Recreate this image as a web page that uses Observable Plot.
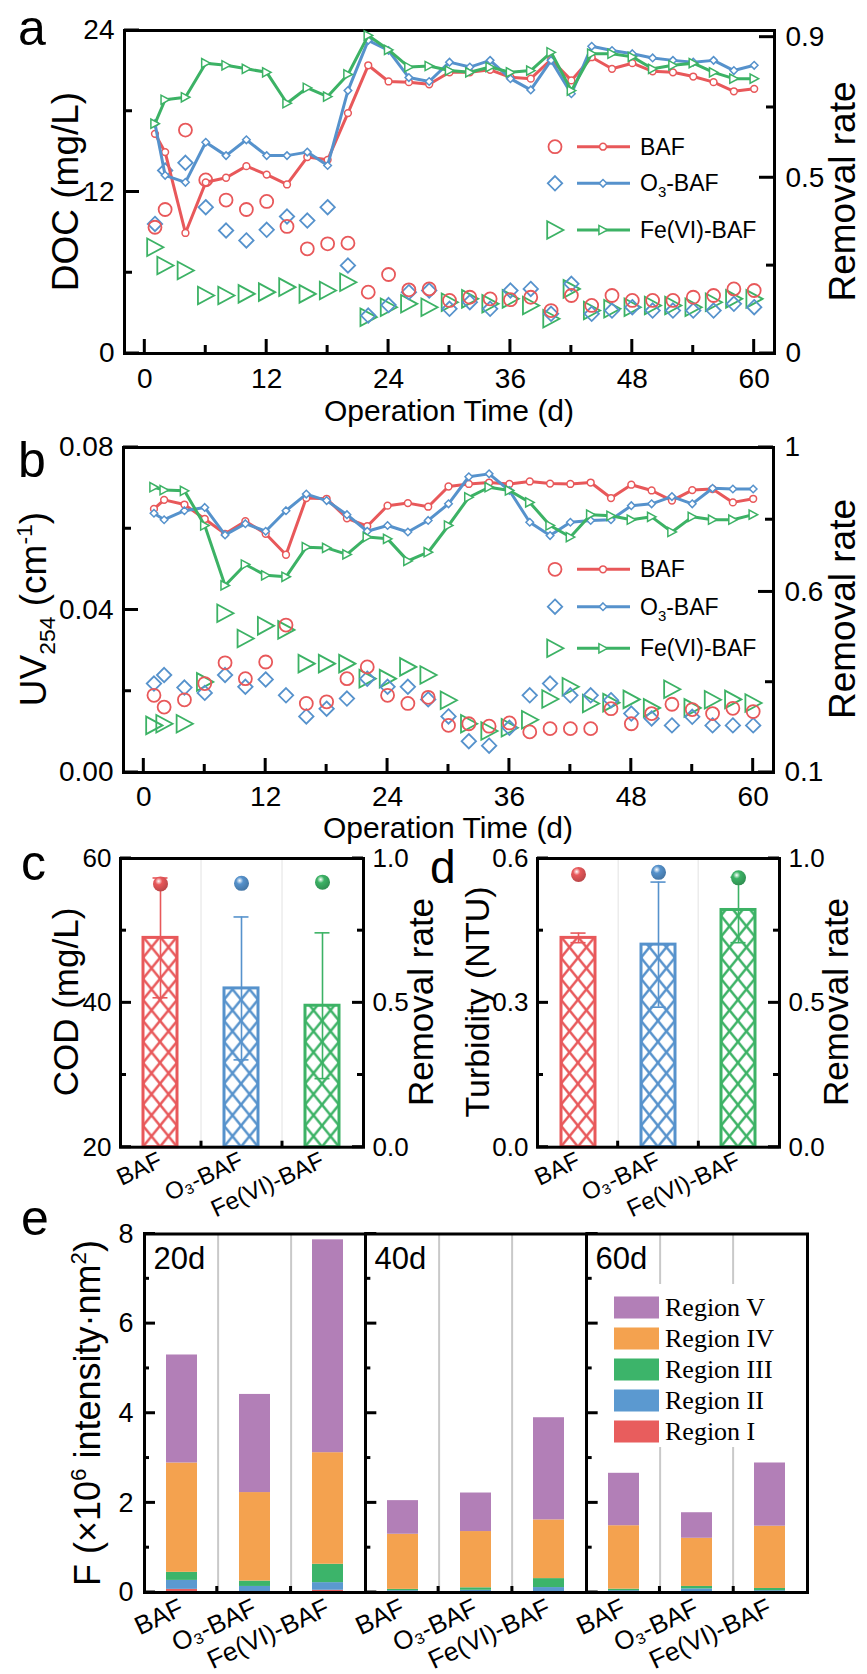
<!DOCTYPE html>
<html>
<head>
<meta charset="utf-8">
<script src="https://cdn.jsdelivr.net/npm/d3@7"></script>
<script src="https://cdn.jsdelivr.net/npm/@observablehq/plot@0.6"></script>
<style>
  html, body { margin: 0; padding: 0; background: #fff; }
  #fig { position: relative; width: 867px; height: 1674px; overflow: hidden; background: #fff; }
</style>
</head>
<body>
<div id="fig"></div>
<script>
// ================= DATA =================
const days = [1, 2, 4, 6, 8, 10, 12, 14, 16, 18, 20, 22, 24, 26, 28, 30, 32, 34, 36, 38, 40, 42, 44, 46, 48, 50, 52, 54, 56, 58, 60];
const reactors = ["BAF", "O₃-BAF", "Fe(VI)-BAF"];

// (a) effluent DOC (mg/L)
const docBAF = [9.38, 10.7, 16.6, 12.9, 11.4, 10.7, 11.3, 9.44, 7.78, 8.15, 8.2, 4.56, 5.87, 4.73, 4.8, 3.94, 4.18, 4.06, 4.0, 4.18, 3.19, 4.31, 3.57, 4.31, 3.94, 3.94, 3.94, 4.18, 4.31, 4.8, 4.68];
const docO3 = [9.63, 13.6, 14.17, 10.87, 9.14, 8.4, 9.19, 10.18, 9.88, 10.87, 6.54, 2.82, 3.6, 4.56, 4.68, 3.32, 3.81, 3.32, 4.68, 4.8, 2.95, 5.18, 2.95, 3.19, 3.44, 3.19, 3.19, 3.19, 3.19, 3.69, 3.44];
const docFe = [7.9, 6.54, 6.17, 4.31, 4.31, 4.43, 4.56, 4.93, 4.43, 4.68, 5.3, 2.7, 3.44, 3.69, 3.44, 3.81, 4.06, 3.69, 4.06, 3.57, 2.58, 4.8, 3.19, 3.32, 3.44, 3.57, 3.57, 3.44, 3.81, 4.06, 4.06];
// (a) DOC removal rate
const docRemBAF = [0.625, 0.573, 0.343, 0.487, 0.50, 0.533, 0.509, 0.481, 0.559, 0.551, 0.684, 0.820, 0.774, 0.772, 0.766, 0.80, 0.80, 0.807, 0.786, 0.782, 0.836, 0.777, 0.843, 0.81, 0.826, 0.803, 0.80, 0.788, 0.772, 0.746, 0.753];
const docRemO3 = [0.654, 0.507, 0.487, 0.601, 0.563, 0.608, 0.563, 0.563, 0.573, 0.535, 0.748, 0.891, 0.862, 0.785, 0.774, 0.829, 0.815, 0.834, 0.782, 0.750, 0.834, 0.739, 0.874, 0.862, 0.853, 0.841, 0.834, 0.829, 0.834, 0.805, 0.820];
const docRemFe = [0.654, 0.722, 0.729, 0.826, 0.820, 0.810, 0.80, 0.712, 0.756, 0.731, 0.794, 0.905, 0.864, 0.815, 0.818, 0.805, 0.80, 0.815, 0.80, 0.805, 0.857, 0.748, 0.853, 0.853, 0.844, 0.81, 0.82, 0.826, 0.80, 0.782, 0.782];

// (b) effluent UV254 (cm-1)
const uvBAF = [0.0190, 0.0161, 0.0179, 0.0219, 0.0270, 0.0231, 0.0272, 0.0363, 0.0170, 0.0174, 0.0231, 0.0260, 0.0190, 0.0170, 0.0185, 0.0116, 0.0120, 0.0114, 0.0122, 0.0100, 0.0108, 0.0108, 0.0108, 0.0157, 0.0120, 0.0145, 0.0168, 0.0155, 0.0145, 0.0158, 0.0150];
const uvO3 = [0.0219, 0.0240, 0.0209, 0.0196, 0.0240, 0.0211, 0.0229, 0.0190, 0.0138, 0.0157, 0.0182, 0.0231, 0.0211, 0.0211, 0.0180, 0.0138, 0.0077, 0.0066, 0.0110, 0.0190, 0.0219, 0.0190, 0.0190, 0.0178, 0.0145, 0.0133, 0.0116, 0.0137, 0.0116, 0.0116, 0.0116];
const uvFe = [0.0116, 0.0120, 0.0120, 0.0223, 0.0392, 0.0330, 0.0361, 0.0351, 0.0268, 0.0268, 0.0268, 0.0231, 0.0231, 0.0260, 0.0240, 0.0178, 0.0120, 0.0102, 0.0110, 0.0130, 0.0181, 0.0211, 0.0170, 0.0172, 0.0180, 0.0159, 0.0205, 0.0159, 0.0179, 0.0180, 0.0171];
// (b) UV254 removal rate
const uvRemBAF = [0.83, 0.855, 0.842, 0.802, 0.761, 0.796, 0.761, 0.703, 0.86, 0.858, 0.804, 0.782, 0.839, 0.846, 0.836, 0.892, 0.899, 0.903, 0.899, 0.906, 0.90, 0.899, 0.903, 0.86, 0.897, 0.881, 0.853, 0.882, 0.885, 0.848, 0.858];
const uvRemO3 = [0.818, 0.80, 0.825, 0.834, 0.758, 0.789, 0.768, 0.825, 0.871, 0.853, 0.814, 0.768, 0.784, 0.766, 0.798, 0.844, 0.919, 0.927, 0.881, 0.793, 0.756, 0.793, 0.798, 0.80, 0.839, 0.844, 0.864, 0.844, 0.887, 0.885, 0.885];
const uvRemFe = [0.89, 0.882, 0.88, 0.784, 0.618, 0.676, 0.646, 0.642, 0.724, 0.722, 0.704, 0.752, 0.747, 0.686, 0.71, 0.784, 0.862, 0.89, 0.881, 0.848, 0.784, 0.752, 0.814, 0.811, 0.80, 0.808, 0.766, 0.808, 0.80, 0.80, 0.814];

// (c) COD
const codMean = [49.0, 42.0, 39.6];
const codSD = [8.3, 9.9, 10.1];
const codRemoval = [0.912, 0.914, 0.918];
// (d) Turbidity
const turbMean = [0.435, 0.421, 0.493];
const turbSD = [0.010, 0.130, 0.068];
const turbRemoval = [0.945, 0.952, 0.933];

// (e) fluorescence regional integration (×10^6), order: 20d BAF, O3, Fe | 40d ... | 60d ...
const eDays = ["20d", "40d", "60d"];
const regions = ["Region I", "Region II", "Region III", "Region IV", "Region V"];
const regionI = [0.07, 0.02, 0.05, 0.01, 0.01, 0.01, 0.01, 0.01, 0.01];
const regionII = [0.20, 0.115, 0.17, 0.03, 0.04, 0.10, 0.03, 0.07, 0.03];
const regionIII = [0.18, 0.12, 0.41, 0.03, 0.055, 0.20, 0.035, 0.055, 0.05];
const regionIV = [2.44, 1.975, 2.49, 1.23, 1.255, 1.31, 1.415, 1.075, 1.39];
const regionV = [2.41, 2.19, 4.75, 0.75, 0.86, 2.28, 1.17, 0.57, 1.41];

// ticks
const timeTicks = [0, 12, 24, 36, 48, 60], timeMinor = [6, 18, 30, 42, 54];
const aLeftTicks = [0, 12, 24], aLeftMinor = [6, 18];
const aRightTicks = [0, 0.5, 0.9], aRightMinor = [0.25, 0.7];
const bLeftTicks = [0, 0.04, 0.08], bLeftMinor = [0.02, 0.06];
const bRightTicks = [0.1, 0.6, 1], bRightMinor = [0.35, 0.8];
const cLeftTicks = [20, 40, 60], cLeftMinor = [30, 50];
const dLeftTicks = [0, 0.3, 0.6], dLeftMinor = [0.15, 0.45];
const rateTicks = [0, 0.5, 1], rateMinor = [0.25, 0.75];
const eTicks = [0, 2, 4, 6, 8], eMinor = [1, 3, 5, 7];

// ================= STYLE =================
const W = 867;
const FONT = '"Liberation Sans", Arial, Helvetica, sans-serif';
const colors = ["#e8585a", "#5692cc", "#3cb265"];
const regionColors = ["#e85d5d", "#5b99d0", "#3cb46a", "#f4a24f", "#b27fb7"];
const fig = document.getElementById("fig");
const baseStyle = {background: "transparent", fontFamily: FONT, color: "black", overflow: "visible"};
function mount(svg, top) {
  svg.style.position = "absolute"; svg.style.left = "0px"; svg.style.top = top + "px";
  fig.appendChild(svg); return svg;
}
const tbl = vals => days.map((d, i) => ({day: d, v: vals[i]}));

const triRight = {draw(ctx, size) {
  const r = Math.sqrt(size / Math.PI);
  ctx.moveTo(1.3 * r, 0); ctx.lineTo(-1.2 * r, -1.35 * r); ctx.lineTo(-1.2 * r, 1.35 * r); ctx.closePath();
}};
const plotSymbols = ["circle", "diamond2", triRight];
const d3Symbols = [d3.symbolCircle, d3.symbolDiamond2, triRight];

// ----- inward tick marks, positioned with the plot's own scales -----
function scaleFn(svg, name) {
  const s = svg.scale(name);
  if (s && typeof s.apply === "function") return v => s.apply(v);
  return d3.scaleLinear(s.domain, s.range);
}
function drawTicks(svg, segs) {
  const g = d3.select(svg).append("g").attr("aria-label", "inner ticks");
  for (const [x1, y1, x2, y2] of segs) {
    g.append("path").attr("d", `M${x1},${y1}L${x2},${y2}`)
      .attr("stroke", "#000").attr("stroke-width", 3).attr("fill", "none");
  }
}
function ySegs(svg, x0, dir, major, minor, long = 15, short = 8) {
  const f = scaleFn(svg, "y");
  return [...major.map(v => [x0, f(v), x0 + dir * long, f(v)]), ...minor.map(v => [x0, f(v), x0 + dir * short, f(v)])];
}
function xSegs(svg, y0, major, minor, long = 14, short = 8) {
  const f = scaleFn(svg, "x");
  return [...major.map(v => [f(v), y0, f(v), y0 - long]), ...minor.map(v => [f(v), y0, f(v), y0 - short])];
}
function yLabels(anchor, major, fmt, fs, pad) {
  return Plot.axisY(major, {anchor, tickSize: 0, tickPadding: pad, tickFormat: fmt, label: null, fontSize: fs});
}

// ================= PANELS a, b =================
function timePanel(cfg) {
  const dims = {width: W, height: cfg.H, marginTop: cfg.mT, marginBottom: cfg.mB, marginLeft: cfg.mL, marginRight: cfg.mR};
  const left = Plot.plot({...dims, style: baseStyle,
    x: {domain: [-2, 62]}, y: {domain: cfg.yL},
    marks: [
      ...[2, 1, 0].map(k => Plot.dot(tbl(cfg.left[k]), {x: "day", y: "v", symbol: plotSymbols[k], r: 6.5, stroke: colors[k], strokeWidth: 1.8, fill: "none"})),
      Plot.frame({stroke: "black", strokeWidth: 3}),
      yLabels("left", cfg.lt, cfg.lf, 28, 10),
      Plot.axisX(timeTicks, {tickSize: 0, tickPadding: cfg.xpad, label: null, fontSize: 28})
    ]});
  drawTicks(left, [...ySegs(left, cfg.mL, 1, cfg.lt, cfg.lm), ...xSegs(left, cfg.H - cfg.mB, timeTicks, timeMinor)]);
  const right = Plot.plot({...dims, style: baseStyle,
    x: {domain: [-2, 62], axis: null}, y: {domain: cfg.yR},
    marks: [
      ...[0, 1, 2].flatMap(k => [
        Plot.line(tbl(cfg.right[k]), {x: "day", y: "v", stroke: colors[k], strokeWidth: 3}),
        Plot.dot(tbl(cfg.right[k]), {x: "day", y: "v", symbol: plotSymbols[k], r: 3.4, stroke: colors[k], strokeWidth: 1.5, fill: "white"})
      ]),
      yLabels("right", cfg.rt, cfg.rf, 28, 11)
    ]});
  drawTicks(right, ySegs(right, W - cfg.mR, -1, cfg.rt, cfg.rm));
  mount(left, cfg.top); mount(right, cfg.top);
}

timePanel({top: 0, H: 420, mT: 30, mB: 67, mL: 124, mR: 93, xpad: 15,
  yL: [0, 24], yR: [0, 0.919],
  left: [docBAF, docO3, docFe], right: [docRemBAF, docRemO3, docRemFe],
  lt: aLeftTicks, lm: aLeftMinor, lf: d => d3.format("d")(d),
  rt: aRightTicks, rm: aRightMinor, rf: d => d === 0 ? "0" : d3.format(".1f")(d)});

timePanel({top: 400, H: 420, mT: 47, mB: 48, mL: 123, mR: 94, xpad: 14,
  yL: [0, 0.08], yR: [0.1, 1],
  left: [uvBAF, uvO3, uvFe], right: [uvRemBAF, uvRemO3, uvRemFe],
  lt: bLeftTicks, lm: bLeftMinor, lf: d3.format(".2f"),
  rt: bRightTicks, rm: bRightMinor, rf: d => d === 1 ? "1" : d3.format(".1f")(d)});

// ================= PANELS c, d =================
let uid = 0;
function ensureDefs(svg) {
  const s = d3.select(svg);
  let defs = s.select("defs");
  if (defs.empty()) defs = s.insert("defs", ":first-child");
  return defs;
}
function barPanel(cfg) {
  const dims = {width: W, height: cfg.H, marginTop: cfg.mT, marginBottom: cfg.mB, marginLeft: cfg.mL, marginRight: cfg.mR};
  const step = (W - cfg.mL - cfg.mR) / reactors.length;
  const xs = {type: "band", domain: reactors, paddingInner: 0.58, paddingOuter: 0.29};
  const data = reactors.map((r, i) => ({r, m: cfg.mean[i], sd: cfg.sd[i], rem: cfg.rem[i]}));
  const color = {domain: reactors, range: colors};
  const capInset = (step * 0.42 - 15) / 2;
  const base = cfg.yL[0];
  const left = Plot.plot({...dims, style: baseStyle, x: xs, y: {domain: cfg.yL}, color,
    marks: [
      Plot.ruleX(reactors.slice(1), {x: d => d, dx: -step / 2, stroke: "#e2e2e2", strokeWidth: 1}),
      Plot.barY(data, {x: "r", y1: base, y2: "m", stroke: "r", strokeWidth: 3, fill: "white"}),
      Plot.ruleX(data, {x: "r", y1: d => d.m - d.sd, y2: d => d.m + d.sd, stroke: "r", strokeWidth: 1.6}),
      Plot.tickY(data, {x: "r", y: d => d.m + d.sd, stroke: "r", strokeWidth: 1.6, insetLeft: capInset, insetRight: capInset}),
      Plot.tickY(data, {x: "r", y: d => d.m - d.sd, stroke: "r", strokeWidth: 1.6, insetLeft: capInset, insetRight: capInset}),
      Plot.frame({stroke: "black", strokeWidth: 3}),
      yLabels("left", cfg.lt, cfg.lf, 26, 9),
      Plot.axisX(reactors, {tickSize: 0, tickPadding: 12, tickRotate: -25, fontSize: 24, label: null})
    ]});
  const bottom = cfg.H - cfg.mB;
  drawTicks(left, [...ySegs(left, cfg.mL, 1, cfg.lt, cfg.lm, 11, 6),
    ...[1, 2].map(i => [cfg.mL + i * step, bottom, cfg.mL + i * step, bottom - 6])]);
  // cross-hatch fill
  const defs = ensureDefs(left);
  d3.select(left).selectAll('g[aria-label="bar"] rect').each(function(_, i) {
    const id = "hatch" + (uid++);
    const x = +this.getAttribute("x") || 0, y = +this.getAttribute("y") || 0, h = +this.getAttribute("height") || 0;
    const pw = step * 0.42 / 2, ph = 21;
    const p = defs.append("pattern").attr("id", id).attr("patternUnits", "userSpaceOnUse")
      .attr("width", pw).attr("height", ph).attr("patternTransform", `translate(${x},${y + h})`);
    p.append("rect").attr("width", pw).attr("height", ph).attr("fill", "white");
    p.append("path").attr("d", `M0,0L${pw},${ph}M${pw},0L0,${ph}`).attr("stroke", colors[i]).attr("stroke-width", 2.4).attr("fill", "none");
    this.setAttribute("fill", `url(#${id})`);
  });
  const right = Plot.plot({...dims, style: baseStyle, x: {...xs, axis: null}, y: {domain: [0, 1]}, color,
    marks: [
      Plot.dot(data, {x: "r", y: "rem", r: 7.5, fill: "r", stroke: "none"}),
      yLabels("right", rateTicks, d3.format(".1f"), 26, 9)
    ]});
  drawTicks(right, ySegs(right, W - cfg.mR, -1, rateTicks, rateMinor, 11, 6));
  const defs2 = ensureDefs(right);
  d3.select(right).selectAll('g[aria-label="dot"] circle').each(function(_, i) {
    const id = "glow" + (uid++);
    const g = defs2.append("radialGradient").attr("id", id).attr("cx", "38%").attr("cy", "32%").attr("r", "68%");
    g.append("stop").attr("offset", "0%").attr("stop-color", "#ffffff");
    g.append("stop").attr("offset", "35%").attr("stop-color", colors[i]);
    g.append("stop").attr("offset", "100%").attr("stop-color", d3.color(colors[i]).darker(0.6));
    this.setAttribute("fill", `url(#${id})`);
  });
  mount(left, cfg.top); mount(right, cfg.top);
}

barPanel({top: 820, H: 440, mT: 38, mB: 113.3, mL: 120, mR: 504,
  yL: [20, 60], mean: codMean, sd: codSD, rem: codRemoval,
  lt: cLeftTicks, lm: cLeftMinor, lf: d3.format("d")});
barPanel({top: 820, H: 440, mT: 38, mB: 113.3, mL: 537, mR: 88,
  yL: [0, 0.6], mean: turbMean, sd: turbSD, rem: turbRemoval,
  lt: dLeftTicks, lm: dLeftMinor, lf: d3.format(".1f")});

// ================= PANEL e =================
const regionVals = [regionI, regionII, regionIII, regionIV, regionV];
const eData = [];
eDays.forEach((day, di) => reactors.forEach((r, ri) => regions.forEach((g, gi) =>
  eData.push({day, r, g, v: regionVals[gi][di * 3 + ri]}))));
const eML = 143, eMR = 60, eH = 484, eMB = 82;
const facetW = (W - eML - eMR) / 3;
const stepE = facetW / 3;
const ePlot = Plot.plot({width: W, height: eH, marginTop: 43.5, marginBottom: eMB, marginLeft: eML, marginRight: eMR,
  style: baseStyle,
  fx: {domain: eDays, padding: 0, axis: null},
  x: {type: "band", domain: reactors, paddingInner: 0.57, paddingOuter: 0.285},
  y: {domain: [0, 8]},
  color: {domain: regions, range: regionColors},
  marks: [
    Plot.ruleX(reactors.slice(1), {x: d => d, dx: -stepE / 2, stroke: "#c9c9c9", strokeWidth: 2}),
    Plot.barY(eData, {fx: "day", x: "r", y: "v", fill: "g", order: regions}),
    Plot.frame({stroke: "black", strokeWidth: 3}),
    yLabels("left", eTicks, d => String(d), 27, 11),
    Plot.axisX(reactors, {tickSize: 0, tickPadding: 14, tickRotate: -25, fontSize: 26, label: null}),
    Plot.text(eDays, {fx: d => d, text: d => d, frameAnchor: "top-left", dx: 9, dy: 12.5, lineAnchor: "top", textAnchor: "start", fontSize: 31})
  ]});
{
  const segs = [];
  eDays.forEach((_, j) => {
    const fl = eML + j * facetW;
    segs.push(...ySegs(ePlot, fl, 1, eTicks, eMinor, 12, 6));
    [1, 2].forEach(i => segs.push([fl + i * stepE, eH - eMB, fl + i * stepE, eH - eMB - 6]));
  });
  drawTicks(ePlot, segs);
}
mount(ePlot, 1190);

// ================= ANNOTATION OVERLAY =================
const ov = d3.create("svg").attr("width", W).attr("height", 1674)
  .style("position", "absolute").style("left", "0px").style("top", "0px")
  .style("font-family", FONT).style("overflow", "visible");

function label(x, y, size, parts, {rotate = false, anchor = "start", family = null} = {}) {
  const t = ov.append("text").attr("font-size", size).attr("fill", "black").attr("text-anchor", anchor);
  if (family) t.attr("font-family", family);
  if (rotate) t.attr("transform", `translate(${x},${y}) rotate(-90)`);
  else t.attr("x", x).attr("y", y);
  for (const [s, dy, f] of parts) {
    const ts = t.append("tspan").text(s);
    if (dy) ts.attr("dy", dy);
    if (f && f !== 1) ts.attr("font-size", size * f);
  }
  return t;
}
// panel letters
label(18, 45, 50, [["a"]]);
label(18, 477, 50, [["b"]]);
label(21, 880, 50, [["c"]]);
label(430, 883, 46, [["d"]]);
label(21, 1235, 50, [["e"]]);
// axis titles
label(78, 191.5, 37, [["DOC (mg/L)"]], {rotate: true, anchor: "middle"});
label(855, 191.5, 37, [["Removal rate"]], {rotate: true, anchor: "middle"});
label(449, 421, 30, [["Operation Time (d)"]], {anchor: "middle"});
label(46, 609, 37, [["UV"], ["254", 9, 0.62], [" (cm", -9, 1], ["-1", -14, 0.62], [")", 14, 1]], {rotate: true, anchor: "middle"});
label(855, 609, 37, [["Removal rate"]], {rotate: true, anchor: "middle"});
label(448, 838, 30, [["Operation Time (d)"]], {anchor: "middle"});
label(78, 1002, 35, [["COD (mg/L)"]], {rotate: true, anchor: "middle"});
label(433, 1002, 35, [["Removal rate"]], {rotate: true, anchor: "middle"});
label(489, 1002, 34, [["Turbidity (NTU)"]], {rotate: true, anchor: "middle"});
label(848, 1002, 35, [["Removal rate"]], {rotate: true, anchor: "middle"});
label(100, 1413, 36, [["F (×10"], ["6", -14, 0.62], [" intensity·nm", 14, 1], ["2", -14, 0.62], [")", 14, 1]], {rotate: true, anchor: "middle"});

// legends for a and b
function seriesLegend(rowsY) {
  reactors.forEach((name, k) => {
    const y = rowsY[k];
    ov.append("path").attr("transform", `translate(555,${y})`)
      .attr("d", d3.symbol(d3Symbols[k], Math.PI * 6.5 * 6.5)())
      .attr("fill", "none").attr("stroke", colors[k]).attr("stroke-width", 1.8);
    ov.append("line").attr("x1", 577).attr("x2", 630).attr("y1", y).attr("y2", y)
      .attr("stroke", colors[k]).attr("stroke-width", 3);
    ov.append("path").attr("transform", `translate(603,${y})`)
      .attr("d", d3.symbol(d3Symbols[k], Math.PI * 3.4 * 3.4)())
      .attr("fill", "white").attr("stroke", colors[k]).attr("stroke-width", 1.5);
    const parts = k === 1 ? [["O"], ["3", 6, 0.65], ["-BAF", -6, 1]] : [[name]];
    label(640, y + 8, 23, parts);
  });
}
seriesLegend([146.7, 183.3, 230]);
seriesLegend([569.3, 606.7, 648.3]);

// legend for e
ov.append("rect").attr("x", 603).attr("y", 1284).attr("width", 202).attr("height", 163).attr("fill", "white");
[4, 3, 2, 1, 0].forEach((gi, row) => {
  const y = 1307.5 + 31 * row;
  ov.append("rect").attr("x", 614).attr("y", y - 11).attr("width", 45).attr("height", 22).attr("fill", regionColors[gi]);
  label(665, y + 8.5, 26, [[regions[gi]]], {family: '"Liberation Serif", "Times New Roman", serif'});
});

fig.appendChild(ov.node());
</script>
</body>
</html>
